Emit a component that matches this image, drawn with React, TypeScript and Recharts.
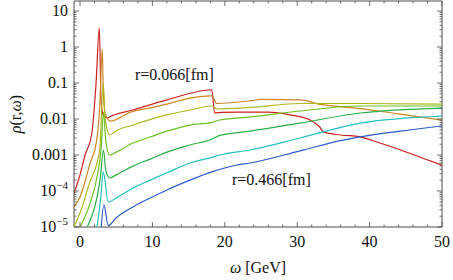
import React from 'react';
import { LineChart, Line, XAxis, YAxis, ReferenceArea } from 'recharts';

const W = 453;
const H = 280;
const PLOT = { left: 74, right: 442, top: 1, bottom: 227 };
const FONT = 'Liberation Serif';
const FRAME = '#4d4d4d';

const X_DOMAIN: [number, number] = [-0.83, 50];
const Y_DOMAIN: [number, number] = [1e-5, 19];

// r = 0.066 fm (red)
const redW = [-0.83, 0, 0.7, 1.6, 2.2, 2.67, 2.9, 3.2, 3.8, 4.1, 7.3, 12, 18.2, 18.6, 19.5, 22, 26, 29, 31.8, 33.1, 33.6, 36, 38.7, 41, 44.2, 47, 50];
const redV = [8.7e-5, 2.8e-4, 1e-3, 3.6e-3, 0.087, 3.4, 0.034, 0.013, 0.0107, 0.0115, 0.0178, 0.034, 0.065, 0.0148, 0.0152, 0.0155, 0.0155, 0.013, 0.0093, 0.006, 0.0044, 0.0036, 0.0032, 0.0023, 0.0014, 8.7e-4, 5.2e-4];

// orange
const orangeW = [-0.83, 0, 1.4, 2.3, 2.7, 3.08, 3.2, 3.45, 4.2, 7, 9.7, 12, 15.2, 18.2, 18.9, 23.5, 25, 30.4, 33, 36, 38.7, 44, 50];
const orangeV = [3.6e-5, 6.8e-5, 6e-4, 2.6e-3, 0.018, 0.87, 0.078, 0.015, 0.0087, 0.0155, 0.0204, 0.026, 0.038, 0.044, 0.027, 0.032, 0.035, 0.034, 0.026, 0.022, 0.0195, 0.0139, 0.0093];

// olive
const oliveW = [-0.83, 0.3, 1.4, 2.35, 2.76, 3.2, 3.5, 4.1, 5, 7.3, 12, 15.2, 18.2, 19, 23.5, 30.4, 38.7, 50];
const oliveV = [1e-5, 3.6e-5, 1.9e-4, 6e-4, 1.66e-3, 0.1, 0.0093, 0.0036, 0.0047, 0.0068, 0.013, 0.0178, 0.023, 0.019, 0.021, 0.027, 0.027, 0.026];

// light green
const lgreenW = [0, 1.4, 2.35, 2.9, 3.25, 3.55, 4.1, 5, 7.3, 9.7, 12, 15.2, 18.2, 19.3, 23.5, 30.4, 38.7, 50];
const lgreenV = [1e-5, 4.6e-5, 2.45e-4, 1.38e-3, 0.0156, 2.6e-3, 1e-3, 1.2e-3, 2.15e-3, 3.16e-3, 4.6e-3, 6.8e-3, 8.1e-3, 9.4e-3, 0.0114, 0.0167, 0.023, 0.023];

// green
const greenW = [1.0, 2.35, 2.76, 3.25, 3.55, 4.1, 5, 7.3, 9.7, 12, 15.2, 18.2, 19.3, 23.5, 30.4, 38.7, 50];
const greenV = [1e-5, 6.8e-5, 2.0e-4, 1.38e-3, 3.8e-4, 2.3e-4, 2.8e-4, 4.9e-4, 7.7e-4, 1.2e-3, 1.9e-3, 2.75e-3, 3.5e-3, 4.6e-3, 7.7e-3, 0.0147, 0.0202];

// cyan
const cyanW = [2.35, 2.9, 3.2, 3.9, 5, 7.3, 9.7, 12, 15.2, 18.2, 19.3, 23.5, 30.4, 38.7, 50];
const cyanV = [1e-5, 7.7e-5, 3.4e-4, 4.9e-5, 6.4e-5, 1.2e-4, 2.0e-4, 3.2e-4, 6e-4, 8.6e-4, 1e-3, 1.38e-3, 2.97e-3, 7.7e-3, 0.0121];

// r = 0.466 fm (blue)
const blueW = [2.9, 3.3, 3.9, 5, 7.3, 9.7, 12, 15.2, 18.2, 21.5, 23.5, 30.4, 36.3, 38.7, 44.2, 50];
const blueV = [8e-6, 4.1e-5, 1.1e-5, 1.8e-5, 3.6e-5, 6.4e-5, 1.07e-4, 2.0e-4, 3.4e-4, 5.2e-4, 6e-4, 1.3e-3, 2.6e-3, 3.2e-3, 4.6e-3, 6.4e-3];

const SERIES = [
  { key: 'red', w: redW, v: redV, color: '#cc2020' },
  { key: 'orange', w: orangeW, v: orangeV, color: '#cc8624' },
  { key: 'olive', w: oliveW, v: oliveV, color: '#adb820' },
  { key: 'lgreen', w: lgreenW, v: lgreenV, color: '#6cbf22' },
  { key: 'green', w: greenW, v: greenV, color: '#28b045' },
  { key: 'cyan', w: cyanW, v: cyanV, color: '#26bfbf' },
  { key: 'blue', w: blueW, v: blueV, color: '#2a5ccc' },
];

const X_TICKS = Array.from({ length: 26 }, (_, i) => i * 2);
const Y_TICKS: number[] = [];
for (let d = -5; d <= 1; d++) {
  for (let m = 1; m <= 9; m++) {
    const v = m * Math.pow(10, d);
    if (v <= Y_DOMAIN[1]) Y_TICKS.push(v);
  }
}
const Y_LABELS: Record<string, [string, string?]> = {
  '-5': ['10', '\u22125'],
  '-4': ['10', '\u22124'],
  '-3': ['0.001'],
  '-2': ['0.01'],
  '-1': ['0.1'],
  '0': ['1'],
  '1': ['10'],
};

const textStyle = { fontFamily: FONT };

const XTick = (props: any) => {
  const { x, y, payload } = props;
  const v = payload.value as number;
  const major = v % 10 === 0;
  const len = major ? 5 : 2.5;
  const h = PLOT.bottom - PLOT.top;
  return (
    <g>
      <line x1={x} x2={x} y1={y} y2={y - len} stroke={FRAME} strokeWidth={0.8} />
      <line x1={x} x2={x} y1={y - h} y2={y - h + len} stroke={FRAME} strokeWidth={0.8} />
      {major && (
        <text x={x} y={y + 20} textAnchor="middle" fontSize={16} style={textStyle} fill="#111">
          {v}
        </text>
      )}
    </g>
  );
};

const YTick = (props: any) => {
  const { x, y, payload } = props;
  const v = payload.value as number;
  const lg = Math.log10(v);
  const major = Math.abs(lg - Math.round(lg)) < 1e-9;
  const len = major ? 5 : 2.5;
  const ax = x + 6;
  const lab = major ? Y_LABELS[String(Math.round(lg))] : undefined;
  return (
    <g>
      <line x1={ax} x2={ax + len} y1={y} y2={y} stroke={FRAME} strokeWidth={0.8} />
      <line x1={PLOT.right - len} x2={PLOT.right} y1={y} y2={y} stroke={FRAME} strokeWidth={0.8} />
      {lab && (
        <text x={x} y={y + 5} textAnchor="end" fontSize={16} style={textStyle} fill="#111">
          {lab[1] ? (
            <>
              <tspan>{lab[0]}</tspan>
              <tspan dy={-7} fontSize={11}>{lab[1]}</tspan>
            </>
          ) : (
            lab[0]
          )}
        </text>
      )}
    </g>
  );
};

export default function App() {
  return (
    <div style={{ position: 'absolute', left: 0, top: 0, width: W, height: H, background: '#fff' }}>
      <LineChart width={W} height={H} margin={{ top: 1, right: 11, bottom: 0, left: 0 }}>
        <XAxis
          type="number"
          dataKey="w"
          domain={X_DOMAIN}
          allowDataOverflow
          ticks={X_TICKS}
          interval={0}
          tick={<XTick />}
          tickSize={0}
          tickMargin={0}
          axisLine={false}
          tickLine={false}
          height={53}
        />
        <YAxis
          type="number"
          dataKey="v"
          scale="log"
          domain={Y_DOMAIN}
          allowDataOverflow
          ticks={Y_TICKS}
          interval={0}
          tick={<YTick />}
          tickSize={0}
          tickMargin={6}
          axisLine={false}
          tickLine={false}
          width={74}
        />
        {SERIES.map((s) => (
          <Line
            key={s.key}
            data={s.w.map((w, i) => ({ w, v: s.v[i] }))}
            dataKey="v"
            type="monotone"
            stroke={s.color}
            strokeWidth={1.2}
            dot={false}
            activeDot={false}
            isAnimationActive={false}
          />
        ))}
        <ReferenceArea
          x1={X_DOMAIN[0]}
          x2={X_DOMAIN[1]}
          y1={Y_DOMAIN[0]}
          y2={Y_DOMAIN[1]}
          fill="none"
          fillOpacity={0}
          stroke={FRAME}
          strokeWidth={1}
          ifOverflow="visible"
        />
      </LineChart>
      <svg width={W} height={H} style={{ position: 'absolute', left: 0, top: 0, pointerEvents: 'none' }}>
        <text x={135} y={80} fontSize={16} style={textStyle} fill="#111">r=0.066[fm]</text>
        <text x={232} y={185} fontSize={16} style={textStyle} fill="#111">r=0.466[fm]</text>
        <text x={258} y={273} textAnchor="middle" fontSize={16} style={textStyle} fill="#111">
          <tspan fontStyle="italic">ω</tspan> [GeV]
        </text>
        <text transform="translate(21,114) rotate(-90)" textAnchor="middle" fontSize={16} style={textStyle} fill="#111">
          <tspan fontStyle="italic">ρ</tspan>(r,<tspan fontStyle="italic">ω</tspan>)
        </text>
      </svg>
    </div>
  );
}
